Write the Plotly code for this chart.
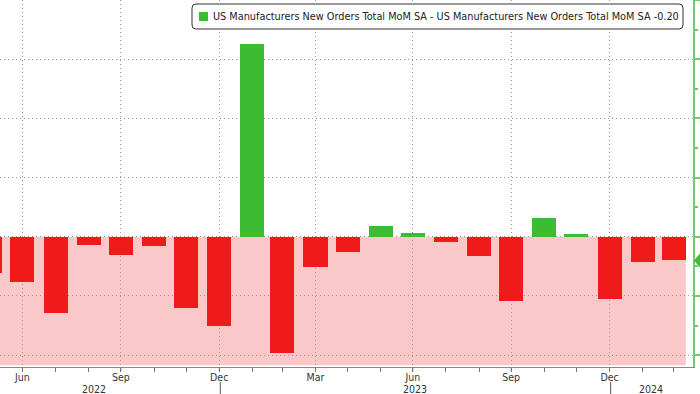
import plotly.graph_objects as go
import pandas as pd

# ---- data ----
months = ["2022-05-31", "2022-06-30", "2022-07-31", "2022-08-31", "2022-09-30", "2022-10-31",
          "2022-11-30", "2022-12-31", "2023-01-31", "2023-02-28", "2023-03-31", "2023-04-30",
          "2023-05-31", "2023-06-30", "2023-07-31", "2023-08-31", "2023-09-30", "2023-10-31",
          "2023-11-30", "2023-12-31", "2024-01-31", "2024-02-29"]
values = [-0.31, -0.38, -0.64, -0.07, -0.155, -0.08, -0.60, -0.75, 1.625, -0.98, -0.255, -0.13,
          0.087, 0.03, -0.04, -0.16, -0.54, 0.155, 0.025, -0.525, -0.21, -0.20]
tick_months = ["2022-06-30", "2022-09-30", "2022-12-31", "2023-03-31", "2023-06-30",
               "2023-09-30", "2023-12-31"]
tick_text = ["Jun", "Sep", "Dec", "Mar", "Jun", "Sep", "Dec"]
year_labels = ["2022", "2023", "2024"]
year_label_pos = ["2022-09-05", "2023-07-02", "2024-02-08"]
year_breaks = ["2023-01-01", "2024-01-01"]
series_name = "US Manufacturers New Orders Total MoM SA - US Manufacturers New Orders Total MoM SA -0.20"

RED = "#f01a1a"
GREEN = "#3dbb32"
PINK = "#fac8c8"
AXGREEN = "#74c874"
GRID = "#9a9a9a"
FONT = "Liberation Sans Narrow, DejaVu Sans Condensed, Arial Narrow, sans-serif"

x_range = ["2022-06-09", "2024-03-18"]
y_range = [-1.1, 2.0]
bar_days = 22.5
W, H = 700, 394
ML, MR, MT, MB = 0, 7, 0, 27
PW, PH = W - ML - MR, H - MT - MB

fig = go.Figure()
fig.add_trace(go.Bar(
    x=months, y=values,
    width=bar_days * 86400000,
    marker=dict(color=[GREEN if v >= 0 else RED for v in values], line=dict(width=0)),
    showlegend=False,
))

# pink negative-region fill
last = pd.Timestamp(months[-1]) + pd.Timedelta(days=bar_days / 2)
fig.add_shape(type="rect", xref="x", yref="y", x0=x_range[0], x1=last.strftime("%Y-%m-%d %H:%M"),
              y0=y_range[0] + 0.015, y1=0, fillcolor=PINK, line=dict(width=0), layer="below")

# last-value marker on the right axis
fig.add_shape(type="path", xref="paper", yref="y", xsizemode="pixel", ysizemode="pixel",
              xanchor=1, yanchor=values[-1],
              path="M1,0 L7,7 L14,7 L14,-7 L7,-7 Z",
              fillcolor=GREEN, line=dict(width=0), layer="above")

# tick marks at labelled months and year separators
for tm in tick_months:
    fig.add_shape(type="line", xref="x", yref="paper", x0=tm, x1=tm,
                  y0=0, y1=-4 / PH, line=dict(color="#777", width=1))
for yb in year_breaks:
    fig.add_shape(type="line", xref="x", yref="paper", x0=yb, x1=yb,
                  y0=-15 / PH, y1=-30 / PH, line=dict(color="#555", width=1))
for lab, pos in zip(year_labels, year_label_pos):
    fig.add_annotation(x=pos, y=-21.8 / PH, xref="x", yref="paper", text=lab, showarrow=False,
                       xanchor="center", yanchor="middle", font=dict(size=10.5, color="#333", family=FONT))

# legend box (rounded)
def px(x):
    return x / PW

def py(y):
    return 1 - y / PH

bx0, bx1, by0, by1, r = 192, 683, 4, 29, 4
path = (f"M{px(bx0 + r)},{py(by0)} L{px(bx1 - r)},{py(by0)} Q{px(bx1)},{py(by0)} {px(bx1)},{py(by0 + r)} "
        f"L{px(bx1)},{py(by1 - r)} Q{px(bx1)},{py(by1)} {px(bx1 - r)},{py(by1)} "
        f"L{px(bx0 + r)},{py(by1)} Q{px(bx0)},{py(by1)} {px(bx0)},{py(by1 - r)} "
        f"L{px(bx0)},{py(by0 + r)} Q{px(bx0)},{py(by0)} {px(bx0 + r)},{py(by0)} Z")
fig.add_shape(type="path", xref="paper", yref="paper", path=path, fillcolor="white",
              line=dict(color="#333", width=1), layer="above")
fig.add_shape(type="rect", xref="paper", yref="paper", x0=px(199), x1=px(208), y0=py(12), y1=py(21),
              fillcolor=GREEN, line=dict(width=0), layer="above")
fig.add_annotation(x=px(211), y=py(16.5), xref="paper", yref="paper", text=series_name,
                   showarrow=False, xanchor="left", yanchor="middle",
                   font=dict(size=10.8, color="#222", family=FONT))

fig.update_layout(
    width=W, height=H,
    margin=dict(l=ML, r=MR, t=MT, b=MB, pad=0),
    paper_bgcolor="white", plot_bgcolor="white",
    bargap=0,
    font=dict(family=FONT, size=12, color="#333"),
    xaxis=dict(
        type="date", range=x_range, automargin=False,
        tickmode="array", tickvals=tick_months, ticktext=tick_text,
        ticks="", ticklen=0,
        showgrid=True, gridcolor=GRID, griddash="1px,3px", gridwidth=1,
        showline=True, linecolor="#888", linewidth=1,
        minor=dict(tickmode="array", tickvals=months, ticks="outside", ticklen=4,
                   tickcolor="#777", showgrid=False),
        tickfont=dict(size=10.5, color="#333", family=FONT),
        zeroline=False,
    ),
    yaxis=dict(
        range=y_range, side="right", automargin=False,
        tick0=0, dtick=0.5, showticklabels=False,
        ticks="outside", ticklen=6, tickwidth=2, tickcolor=AXGREEN,
        showgrid=True, gridcolor=GRID, griddash="1px,3px", gridwidth=1,
        showline=True, linecolor=AXGREEN, linewidth=2,
        minor=dict(tick0=0.25, dtick=0.5, ticks="outside", ticklen=3, tickcolor=AXGREEN, showgrid=False),
        zeroline=False,
    ),
)

fig.write_html("out.html", config={"displayModeBar": False},
               post_script="document.body.style.margin='0';document.body.style.overflow='hidden';")
